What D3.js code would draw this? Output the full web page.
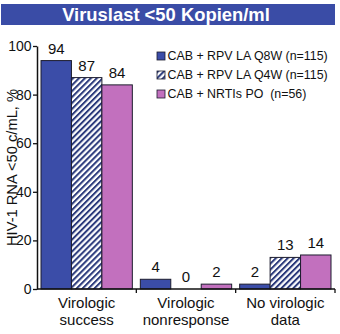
<!DOCTYPE html>
<html>
<head>
<meta charset="utf-8">
<script src="https://cdn.jsdelivr.net/npm/d3@7"></script>
<style>
  html, body { margin: 0; padding: 0; background: #ffffff; }
  svg { display: block; font-family: "Liberation Sans", Arial, Helvetica, sans-serif; }
</style>
</head>
<body>
<svg id="chart" width="340" height="334"></svg>
<script>
// Outcome categories (two-line labels) and the three treatment arms
const categories = [["Virologic", "success"], ["Virologic", "nonresponse"], ["No virologic", "data"]];
const seriesNames = ["CAB + RPV LA Q8W (n=115)", "CAB + RPV LA Q4W (n=115)", "CAB + NRTIs PO\u00a0 (n=56)"];
const q8wValues = [94, 4, 2];
const q4wValues = [87, 0, 13];
const poValues = [84, 2, 14];
const yTicks = [0, 20, 40, 60, 80, 100];
const titleText = "Viruslast <50 Kopien/ml";
const yLabel = "HIV-1 RNA <50 c/mL, %";

const series = [q8wValues, q4wValues, poValues];
const fills = ["#3b4da8", "url(#hatch)", "#c270be"];

const svg = d3.select("#chart");

// diagonal navy hatching for the Q4W arm
const defs = svg.append("defs");
const pat = defs.append("pattern")
  .attr("id", "hatch")
  .attr("patternUnits", "userSpaceOnUse")
  .attr("width", 4.2).attr("height", 4.2)
  .attr("patternTransform", "rotate(45)");
pat.append("rect").attr("width", 4.2).attr("height", 4.2).attr("fill", "#ffffff");
pat.append("rect").attr("width", 2).attr("height", 4.2).attr("fill", "#2b3a7c");

// title banner
svg.append("rect")
  .attr("x", 1).attr("y", 4).attr("width", 334).attr("height", 21)
  .attr("fill", "#3a4ca6");
svg.append("text")
  .attr("x", 166).attr("y", 21)
  .attr("text-anchor", "middle")
  .attr("fill", "#ffffff")
  .attr("font-weight", "bold")
  .attr("font-size", 18.4)
  .text(titleText);

const x0 = d3.scaleBand().domain(d3.range(categories.length)).range([37, 335]).paddingInner(0).paddingOuter(0);
const x1 = d3.scaleBand().domain(d3.range(series.length)).range([4, x0.bandwidth() - 4]);
const y = d3.scaleLinear().domain([0, 100]).range([289, 46]);

// bars
const groups = svg.append("g").selectAll("g")
  .data(categories)
  .join("g")
  .attr("transform", (d, i) => `translate(${x0(i)},0)`);

groups.selectAll("rect")
  .data((d, i) => series.map((s, j) => ({ j, v: s[i] })))
  .join("rect")
  .attr("x", d => x1(d.j))
  .attr("width", x1.bandwidth())
  .attr("y", d => y(d.v))
  .attr("height", d => y(0) - y(d.v))
  .attr("fill", d => fills[d.j])
  .attr("stroke", d => d.v > 0 ? "#1d1d2e" : "none")
  .attr("stroke-width", 1);

// value labels
groups.selectAll("text.val")
  .data((d, i) => series.map((s, j) => ({ j, v: s[i] })))
  .join("text")
  .attr("class", "val")
  .attr("x", d => x1(d.j) + x1.bandwidth() / 2)
  .attr("y", d => y(d.v) - 7)
  .attr("text-anchor", "middle")
  .attr("font-size", 15)
  .attr("fill", "#111")
  .text(d => d.v);

// y axis
const yAxis = svg.append("g")
  .attr("transform", "translate(37,0)")
  .call(d3.axisLeft(y).tickValues(yTicks).tickSize(4).tickPadding(1.5).tickSizeOuter(0));
yAxis.attr("font-family", null).attr("font-size", null);
yAxis.select(".domain").attr("stroke", "#111").attr("stroke-width", 1.5);
yAxis.selectAll(".tick line").attr("stroke", "#111").attr("stroke-width", 1.3);
yAxis.selectAll(".tick text").attr("font-size", 14).attr("fill", "#111");

// x axis with separators between outcome groups
const xAxisG = svg.append("g");
xAxisG.append("line")
  .attr("x1", 37).attr("x2", 335).attr("y1", y(0)).attr("y2", y(0))
  .attr("stroke", "#111").attr("stroke-width", 1.5);
xAxisG.selectAll("line.sep")
  .data(categories)
  .join("line")
  .attr("class", "sep")
  .attr("x1", (d, i) => x0(i) + x0.bandwidth())
  .attr("x2", (d, i) => x0(i) + x0.bandwidth())
  .attr("y1", y(0)).attr("y2", y(0) + 4)
  .attr("stroke", "#111").attr("stroke-width", 1.3);

// category labels, one text per line
const catG = svg.append("g");
categories.forEach((lines, i) => {
  lines.forEach((line, k) => {
    catG.append("text")
      .attr("x", x0(i) + x0.bandwidth() / 2)
      .attr("y", 307.5 + k * 17)
      .attr("text-anchor", "middle")
      .attr("font-size", 15)
      .attr("fill", "#111")
      .text(line);
  });
});

// y axis title
svg.append("text")
  .attr("transform", "translate(17,167.5) rotate(-90)")
  .attr("text-anchor", "middle")
  .attr("font-size", 14.5)
  .attr("textLength", 157)
  .attr("lengthAdjust", "spacingAndGlyphs")
  .attr("fill", "#111")
  .text(yLabel);

// legend
const legend = svg.append("g").selectAll("g")
  .data(seriesNames)
  .join("g")
  .attr("transform", (d, i) => `translate(157,${52 + i * 19})`);
legend.append("rect")
  .attr("width", 8).attr("height", 8)
  .attr("fill", (d, i) => fills[i])
  .attr("stroke", "#1d1d2e").attr("stroke-width", 0.8);
legend.append("text")
  .attr("x", 10.5).attr("y", 8)
  .attr("font-size", 12.4)
  .attr("fill", "#111")
  .text(d => d);
</script>
</body>
</html>
